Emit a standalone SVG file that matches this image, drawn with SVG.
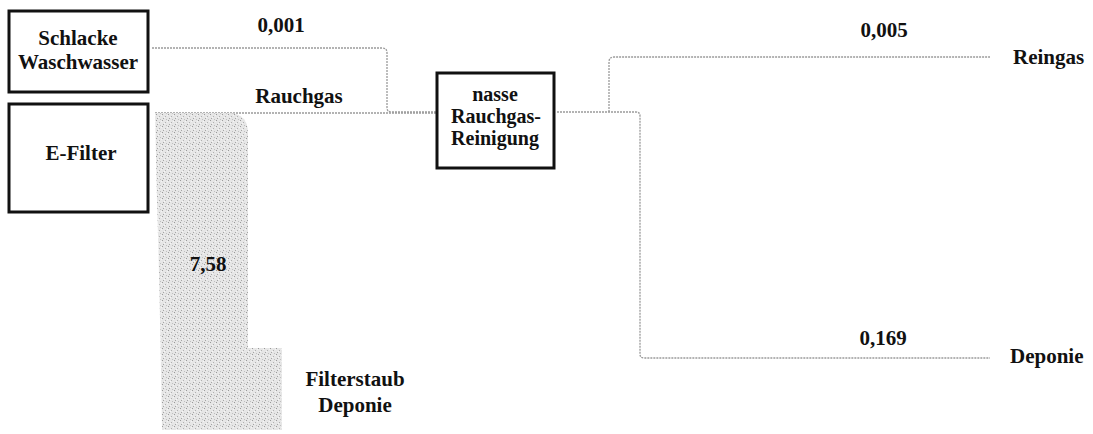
<svg xmlns="http://www.w3.org/2000/svg" width="1093" height="434" viewBox="0 0 1093 434">
<style>
.box{fill:#fff;stroke:#111;stroke-width:3}
.t{font-family:"Liberation Serif","Times New Roman",serif;font-weight:bold;font-size:21px;fill:#111}
.s{font-size:20px}
.c{text-anchor:middle}
.flow{fill:none;stroke:#9a9a9a;stroke-width:1.3;stroke-dasharray:2 1}
</style>
<defs>
<pattern id="halftone" width="6" height="6" patternUnits="userSpaceOnUse">
<rect width="6" height="6" fill="#e6e6e6"/>
<rect x="0" y="0" width="1" height="1" fill="#9a9a9a"/>
<rect x="3" y="2" width="1" height="1" fill="#b0b0b0"/>
<rect x="1" y="4" width="1" height="1" fill="#a5a5a5"/>
<rect x="4" y="5" width="1" height="1" fill="#c0c0c0"/>
<rect x="5" y="1" width="1" height="1" fill="#f4f4f4"/>
<rect x="2" y="3" width="1" height="1" fill="#f6f6f6"/>
</pattern>
</defs>
<g id="connectors">
<path class="flow" d="M152,48 H382 Q387,48 387,53 V108 Q387,112 392,112 H436"/>
<path class="flow" d="M155,113 H436"/>
<path class="flow" d="M557,112 H636 Q640,112 640,116 V354 Q640,358 644,358 H990"/>
<path class="flow" d="M609,112 V62 Q609,57 614,57 H990"/>
<path id="filterstaub-flow" d="M155,113 H228 Q248,113 248,133 V348 H282 V430 H162 Q160,300 157,200 Z" fill="url(#halftone)" stroke="none"/>
</g>
<g id="schlacke">
<rect class="box" x="9" y="11" width="139" height="81"/>
<text class="t c" x="78" y="45">Schlacke</text>
<text class="t c" x="78" y="69">Waschwasser</text>
</g>
<g id="efilter">
<rect class="box" x="9" y="104" width="139" height="108"/>
<text class="t c" x="81" y="160">E-Filter</text>
</g>
<g id="nasse">
<rect class="box" x="437" y="73" width="117" height="95"/>
<text class="t s c" x="495" y="101">nasse</text>
<text class="t s c" x="496" y="123">Rauchgas-</text>
<text class="t s c" x="495" y="145">Reinigung</text>
</g>
<g id="labels">
<text class="t c" x="281" y="32">0,001</text>
<text class="t c" x="299" y="103">Rauchgas</text>
<text class="t c" x="884" y="37">0,005</text>
<text class="t" x="1013" y="64">Reingas</text>
<text class="t c" x="208" y="271">7,58</text>
<text class="t c" x="355" y="386">Filterstaub</text>
<text class="t c" x="355" y="412">Deponie</text>
<text class="t c" x="883" y="345">0,169</text>
<text class="t" x="1010" y="363">Deponie</text>
</g>
</svg>
